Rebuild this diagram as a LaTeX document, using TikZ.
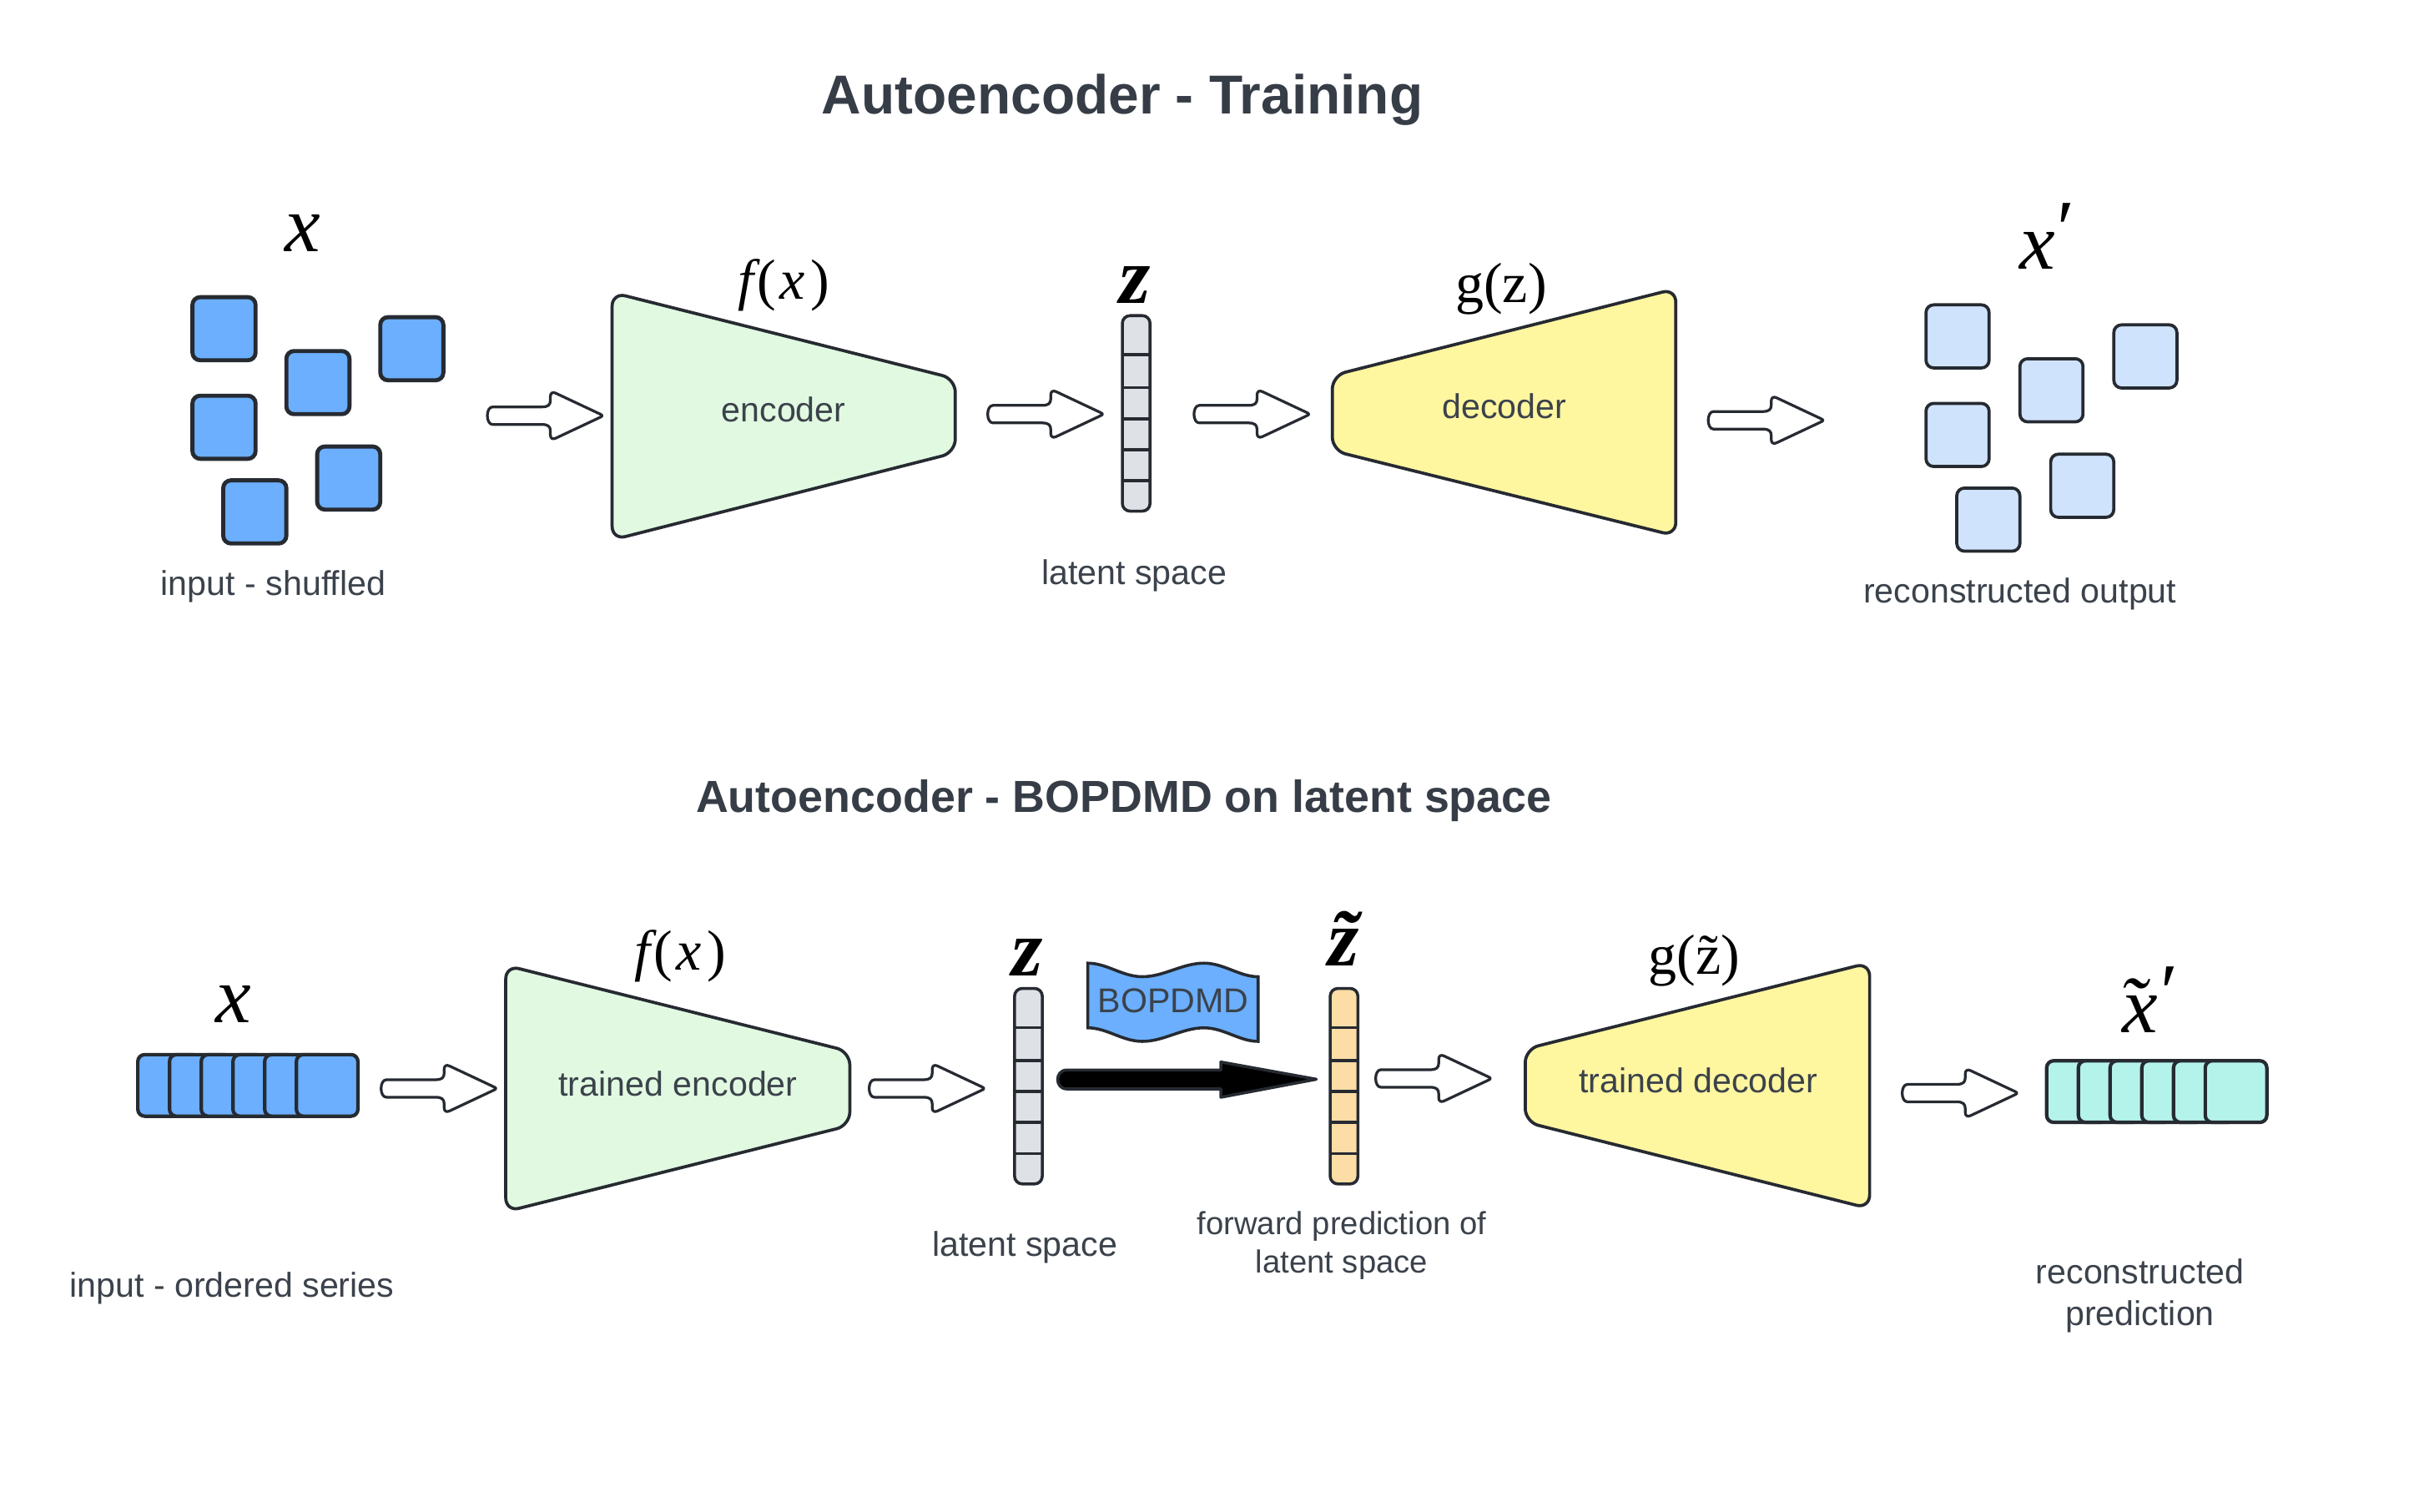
\documentclass[tikz,border=0pt]{standalone}
\usepackage{fontspec}
\setmainfont{Liberation Sans}
\newfontfamily\tms{Liberation Serif}
\usetikzlibrary{calc}
\definecolor{ink}{HTML}{262A31}
\definecolor{txt}{HTML}{3B424B}
\definecolor{ttl}{HTML}{363D46}
\definecolor{blu}{HTML}{6BAFFE}
\definecolor{lblu}{HTML}{CFE3FC}
\definecolor{grn}{HTML}{E1F9E1}
\definecolor{ylw}{HTML}{FFF6A0}
\definecolor{gry}{HTML}{DEE2E7}
\definecolor{org}{HTML}{FDDDA6}
\definecolor{cyn}{HTML}{B4F3EA}
\newcommand\tld[1]{\ooalign{#1\cr\hidewidth˜\hidewidth\cr}}
\newcommand\tldl[1]{\ooalign{#1\cr\hidewidth˜\hidewidth\kern0.2em\cr}}
% hollow block arrow: start x, centre y
\newcommand\harrow[2]{%
  \begin{scope}[shift={(#1,#2)}]
  \draw[harr] (4,-5.7) -- (36,-5.7) .. controls (40,-5.7) and (41.5,-7) .. (41.5,-10)
   -- (41.5,-12.5) .. controls (41.5,-14.8) and (43,-15.6) .. (45,-14.6)
   -- (73.5,-1.2) .. controls (75.6,-0.3) and (75.6,0.3) .. (73.5,1.2)
   -- (45,14.6) .. controls (43,15.6) and (41.5,14.8) .. (41.5,12.5)
   -- (41.5,10) .. controls (41.5,7) and (40,5.7) .. (36,5.7)
   -- (4,5.7) .. controls (-0.6,5.7) and (-0.6,-5.7) .. (4,-5.7) -- cycle;
  \end{scope}}
\begin{document}
\begin{tikzpicture}[x=0.02cm,y=-0.02cm,
  harr/.style={draw=ink,fill=white,line width=1pt,line join=round},
  trap/.style={draw=ink,line width=1.15pt,rounded corners=5},
  sq/.style={draw=ink,line width=1.5pt,rounded corners=0.1cm,minimum width=0.82cm,minimum height=0.82cm,inner sep=0pt,outer sep=0pt},
  lsq/.style={draw=ink,line width=1.15pt,rounded corners=0.1cm,minimum width=0.82cm,minimum height=0.82cm,inner sep=0pt,outer sep=0pt,fill=lblu},
  card/.style={draw=ink,line width=1.3pt,rounded corners=0.09cm,minimum width=0.8cm,minimum height=0.8cm,inner sep=0pt,outer sep=0pt},
  bar/.style={draw=ink,line width=1.1pt,rounded corners=0.1cm,minimum width=0.36cm,minimum height=2.54cm,inner sep=0pt,outer sep=0pt},
  lbl/.style={text=txt,font=\fontsize{12.7}{15.4}\selectfont,align=center,inner sep=0pt},
  small/.style={text=txt,font=\fontsize{11.8}{14}\selectfont,align=center,inner sep=0pt},
  ttlA/.style={text=ttl,font=\fontsize{20.3}{24}\selectfont\bfseries,inner sep=0pt},
  ttlB/.style={text=ttl,font=\fontsize{16.6}{20}\selectfont\bfseries,inner sep=0pt},
  big/.style={font=\fontsize{29.6}{32}\selectfont\tms,inner sep=0pt},
  fun/.style={font=\fontsize{21}{24}\selectfont\tms,inner sep=0pt}]
\useasboundingbox[fill=white] (0,0) rectangle (1568,981.6);

% ---------- titles ----------
\node[ttlA] (t1) at (729,65) {Autoencoder - Training};
\node[ttlB] (t2) at (730,520) {Autoencoder - BOPDMD on latent space};

% ---------- top row ----------
\foreach \x/\y [count=\i] in {125/193,186/228,247/206,125/257,206/290,145/312}
  \node[sq,fill=blu] (in\i) at ({\x+20.5},{\y+20.5}) {};
\node[big] (xin) at (196.5,151.7) {\itshape x};
\node[lbl] (linA) at (177.5,381) {input - shuffled};

\harrow{316}{270}

\draw[trap,fill=grn] (397.6,190) -- (620.5,246) -- (620.5,294) -- (397.6,350.7) -- cycle;
\node[lbl] (enc) at (509,266) {encoder};
\node[fun] (fx1) at (509,185) {{\itshape f}\kern0.06em(\kern0.06em{\itshape x}\kern0.1em)};

\harrow{641}{269}

\node[bar,fill=gry] (lat1) at (738,268.5) {};
\foreach \f in {0.2,0.368,0.527,0.686,0.845}
  \draw[ink,line width=1.1pt] ($(lat1.north west)!\f!(lat1.south west)$) -- ($(lat1.north east)!\f!(lat1.south east)$);
\node[big] (z1) at (737.3,185) {\bfseries\itshape z};
\node[lbl] (latA) at (736.7,374) {latent space};

\harrow{775}{269}

\draw[trap,fill=ylw] (865.4,243.9) -- (1088.5,187.5) -- (1088.5,348.1) -- (865.4,292.7) -- cycle;
\node[lbl] (dec) at (977,264) {decoder};
\node[fun] (gz1) at (975,187.6) {g(z)};

\harrow{1109}{273}

\foreach \x/\y [count=\i] in {125/193,186/228,247/206,125/257,206/290,145/312}
  \node[lsq] (out\i) at ({\x+1126+20.5},{\y+5+20.5}) {};
\node[big] (xout) at (1323.6,163) {\itshape x};
\node[big,anchor=north] (xoutp) at (1342,131.6) {\raisebox{-0.4em}{′}};
\node[lbl] (loutA) at (1312,386) {reconstructed output};

% ---------- bottom row ----------
\foreach \i in {0,...,5}
  \node[card,fill=blu] (xs\i) at ({89.5+20.6*\i+20},705) {};
\node[big] (xin2) at (151.8,652) {\itshape x};
\node[lbl] (linB) at (150.6,837) {input - ordered series};

\harrow{247}{707}

\draw[trap,fill=grn] (328.5,627) -- (552,683) -- (552,731) -- (328.5,787) -- cycle;
\node[lbl] (tenc) at (440.4,704) {trained encoder};
\node[fun] (fx2) at (442,621) {{\itshape f}\kern0.06em(\kern0.06em{\itshape x}\kern0.1em)};

\harrow{564}{707}

\node[bar,fill=gry] (lat2) at (668,705.5) {};
\foreach \f in {0.2,0.368,0.527,0.686,0.845}
  \draw[ink,line width=1.1pt] ($(lat2.north west)!\f!(lat2.south west)$) -- ($(lat2.north east)!\f!(lat2.south east)$);
\node[big] (z2) at (667.4,622) {\bfseries\itshape z};
\node[lbl] (latB) at (665.6,810) {latent space};

% BOPDMD banner
\draw[draw=ink,line width=1.1pt,fill=blu]
  (706.6,625.6) .. controls (719,625.6) and (729,634.4) .. (742,634.4)
  .. controls (756,634.4) and (768,625.6) .. (782,625.6)
  .. controls (795,625.6) and (805,634.4) .. (817.2,634.4)
  -- (817.2,676.4)
  .. controls (805,676.4) and (795,667.6) .. (782,667.6)
  .. controls (768,667.6) and (756,676.4) .. (742,676.4)
  .. controls (729,676.4) and (719,667.6) .. (706.6,667.6) -- cycle;
\node[lbl] (bop) at (762,650) {BOPDMD};

\node[bar,fill=org] (lat3) at (873,705.5) {};
\foreach \f in {0.2,0.368,0.527,0.686,0.845}
  \draw[ink,line width=1.1pt] ($(lat3.north west)!\f!(lat3.south west)$) -- ($(lat3.north east)!\f!(lat3.south east)$);
\node[big,anchor=base] (z3) at (872.6,627.5) {\bfseries\itshape\tld{z}};
\node[small] (latC) at (871.5,809) {forward prediction of\\latent space};

% black arrow from z to z-tilde
\draw[draw=ink,line width=1.1pt,fill=black,line join=round]
  (693,695) -- (793,695) -- (793,689.8) -- (855,701) -- (793,712.7) -- (793,707.3) -- (693,707.3)
  .. controls (685,707.3) and (685,695) .. (693,695) -- cycle;

\harrow{893}{700.5}

\draw[trap,fill=ylw] (990.7,681.4) -- (1214.4,625.3) -- (1214.4,785) -- (990.7,728.8) -- cycle;
\node[lbl] (tdec) at (1103,702) {trained decoder};
\node[fun] (gz2) at (1100.6,624) {g(\tld{z})};

\harrow{1235}{710}

\foreach \i in {0,...,5}
  \node[card,fill=cyn] (ys\i) at ({1329.4+20.6*\i+20},709) {};
\node[big,anchor=base] (xt) at (1390,670.5) {\itshape\tldl{x}};
\node[big,anchor=north] (xtp) at (1409,627.7) {\raisebox{-0.4em}{′}};
\node[lbl] (loutB) at (1390,841.5) {reconstructed\\prediction};
\end{tikzpicture}
\end{document}
